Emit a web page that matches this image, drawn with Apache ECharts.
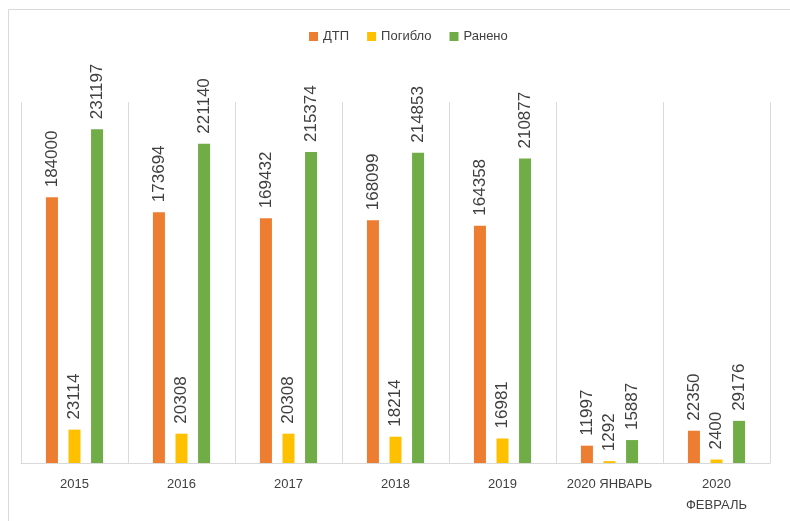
<!DOCTYPE html>
<html style="height: 100%">
    <head>
        <meta charset="utf-8">
    </head>
    <body style="height: 100%; margin: 0">
        <div id="container" style="width: 790px; height: 521px"></div>
        <script src="https://cdn.jsdelivr.net/npm/echarts@6/dist/echarts.min.js"></script>
        <script type="text/javascript">
var periods = ['2015', '2016', '2017', '2018', '2019', '2020 ЯНВАРЬ', '2020\nФЕВРАЛЬ'];
var accidents = [184000, 173694, 169432, 168099, 164358, 11997, 22350];
var killed = [23114, 20308, 20308, 18214, 16981, 1292, 2400];
var injured = [231197, 221140, 215374, 214853, 210877, 15887, 29176];

var dom = document.getElementById("container");
var myChart = echarts.init(dom);
var option;

var labelStyle = {
    show: true,
    position: 'top',
    rotate: 90,
    align: 'left',
    verticalAlign: 'middle',
    distance: 10,
    color: '#404040',
    fontSize: 17,
    fontFamily: 'Liberation Sans'
};

function bar(name, color, values) {
    return {
        name: name,
        type: 'bar',
        data: values,
        barWidth: 12,
        barGap: '88%',
        itemStyle: { color: color },
        label: labelStyle
    };
}

option = {
    animation: false,
    textStyle: { fontFamily: 'Liberation Sans' },
    legend: {
        top: 25,
        left: 304,
        itemWidth: 9,
        itemHeight: 9,
        itemGap: 18,
        icon: 'rect',
        textStyle: { color: '#404040', fontSize: 13 }
    },
    grid: { left: 21, right: 20, top: 102, bottom: 58 },
    xAxis: {
        type: 'category',
        data: periods,
        axisLine: { lineStyle: { color: '#d9d9d9', width: 1 } },
        axisTick: { show: false },
        splitLine: { show: true, lineStyle: { color: '#d9d9d9' } },
        axisLabel: { color: '#404040', fontSize: 13, margin: 11, lineHeight: 21, interval: 0 }
    },
    yAxis: {
        type: 'value',
        min: 0,
        max: 250000,
        show: false
    },
    graphic: [
        { type: 'line', shape: { x1: 8.5, y1: 9.5, x2: 790, y2: 9.5 }, style: { stroke: '#d9d9d9', lineWidth: 1 } },
        { type: 'line', shape: { x1: 8.5, y1: 9.5, x2: 8.5, y2: 521 }, style: { stroke: '#d9d9d9', lineWidth: 1 } }
    ],
    series: [
        bar('ДТП', '#ED7D31', accidents),
        bar('Погибло', '#FFC000', killed),
        bar('Ранено', '#70AD47', injured)
    ]
};

if (option && typeof option === 'object') {
    myChart.setOption(option);
}
        </script>
    </body>
</html>
